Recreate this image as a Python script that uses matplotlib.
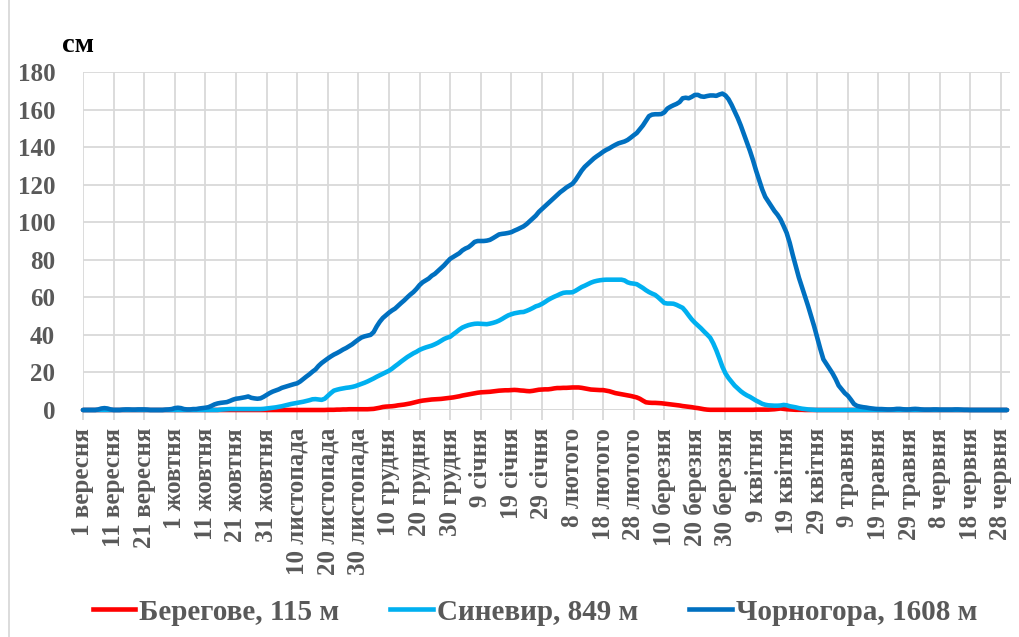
import numpy as np
import matplotlib
matplotlib.use('Agg')
import matplotlib.pyplot as plt
from matplotlib.lines import Line2D

# snow depth (cm), one value per day from 1 September to 30 June
beregove = ([0] * 80 +
    [0.1, 0.1, 0.1, 0.2, 0.2, 0.3, 0.3, 0.4, 0.4, 0.4,
     0.4, 0.4, 0.4, 0.4, 0.5, 0.6, 0.9, 1.2, 1.6, 1.8,
     1.9, 2.0, 2.2, 2.5, 2.7, 2.9, 3.2, 3.5, 3.9, 4.3,
     4.7, 5.0, 5.2, 5.4, 5.6, 5.7, 5.8, 5.9, 6.1, 6.3,
     6.5, 6.7, 7.0, 7.3, 7.7, 8.0, 8.3, 8.6, 8.9, 9.2,
     9.4, 9.5, 9.6, 9.7, 9.9, 10.1, 10.3, 10.4, 10.5, 10.5,
     10.6, 10.7, 10.6, 10.4, 10.3, 10.1, 10.0, 10.2, 10.5, 10.8,
     10.9, 11.0, 11.0, 11.2, 11.5, 11.7, 11.7, 11.8, 11.8, 11.9,
     12.0, 12.0, 12.0, 11.8, 11.5, 11.2, 10.9, 10.8, 10.7, 10.6,
     10.6, 10.3, 10.0, 9.5, 9.0, 8.7, 8.4, 8.1, 7.8, 7.5,
     7.1, 6.7, 6.0, 5.0, 4.1, 3.9, 3.8, 3.8, 3.7, 3.6,
     3.4, 3.2, 3.0, 2.8, 2.6, 2.4, 2.1, 1.9, 1.7, 1.5,
     1.2, 1.0, 0.7, 0.4, 0.2, 0.1, 0.1, 0.1, 0.1, 0.1,
     0.1, 0.1, 0.1, 0.1, 0.1, 0.1, 0.1, 0.1, 0.1, 0.1,
     0.2, 0.2, 0.2, 0.2, 0.2, 0.3, 0.4, 0.6, 0.8, 0.6,
     0.4, 0.3, 0.2, 0.1, 0.1, 0.1, 0, 0, 0, 0] +
    [0] * 63)

synevyr = ([0] * 45 +
    [0.2, 0.3, 0.4, 0.5, 0.5, 0.5, 0.5, 0.5, 0.5, 0.5, 0.5, 0.5, 0.5, 0.5, 0.6,
     0.8, 1.0, 1.2, 1.4, 1.7, 2.0, 2.4, 2.8, 3.2, 3.5,
     3.8, 4.1, 4.4, 4.8, 5.2, 5.7, 5.8, 5.6, 5.4, 6.0,
     7.5, 9.0, 10.3, 10.8, 11.2, 11.5, 11.8, 12.0, 12.3, 12.7,
     13.3, 13.9, 14.5, 15.2, 16.0, 16.8, 17.7, 18.5, 19.3, 20.1,
     20.9, 22.0, 23.3, 24.5, 25.8, 27.0, 28.2, 29.2, 30.2, 31.0,
     32.0, 32.7, 33.3, 33.8, 34.3, 35.0, 35.8, 36.8, 37.8, 38.5,
     39.0, 40.3, 41.5, 42.8, 43.9, 44.6, 45.2, 45.6, 45.9, 46.0,
     45.9, 45.8, 45.7, 46.0, 46.4, 46.9, 47.6, 48.5, 49.5, 50.4,
     51.0, 51.5, 51.8, 52.1, 52.2, 52.8, 53.5, 54.3, 55.2, 55.7,
     56.5, 57.5, 58.6, 59.5, 60.3, 61.0, 61.8, 62.4, 62.6, 62.6,
     62.7, 63.5, 64.5, 65.5, 66.2, 67.0, 67.8, 68.4, 68.8, 69.1,
     69.3, 69.4, 69.4, 69.4, 69.4, 69.4, 69.4, 69.0, 68.0, 67.5,
     67.3, 67.0, 66.0, 65.0, 63.8, 62.8, 62.0, 61.3, 60.0, 58.5,
     57.0, 56.7, 56.7, 56.6, 56.0, 55.2, 54.4, 52.5, 50.3, 48.2,
     46.5, 45.0, 43.5, 41.8, 40.2, 38.5, 35.5, 31.8, 27.5, 23.0,
     19.5, 17.0, 15.0, 13.0, 11.5, 10.0, 8.8, 7.8, 7.0, 6.0,
     5.0, 4.2, 3.3, 2.8, 2.5, 2.4, 2.3, 2.3, 2.4, 2.7,
     2.5, 2.0, 1.7, 1.4, 1.0, 0.7, 0.5, 0.3, 0.2, 0.1] +
    [0] * 63)

chornohora = [
    0, 0, 0, 0, 0, 0.3, 0.8, 1.0, 0.8, 0.3,
    0, 0, 0, 0.2, 0.3, 0.3, 0.2, 0.2, 0.3, 0.3,
    0.3, 0.2, 0, 0, 0, 0, 0, 0.2, 0.3, 0.5,
    1.0, 1.2, 1.0, 0.5, 0.3, 0.3, 0.5, 0.5, 0.8, 1.0,
    1.2, 1.5, 2.2, 3.0, 3.5, 3.8, 4.0, 4.2, 4.8, 5.5,
    6.0, 6.2, 6.5, 6.8, 7.2, 6.5, 6.2, 6.0, 6.2, 7.0,
    8.0, 9.0, 9.8, 10.4, 11.0, 11.8, 12.3, 12.8, 13.3, 13.8,
    14.2, 15.2, 16.5, 17.8, 19.0, 20.4, 21.6, 23.5, 25.0, 26.2,
    27.4, 28.5, 29.5, 30.3, 31.2, 32.2, 33.0, 34.0, 35.0, 36.3,
    37.5, 38.6, 39.2, 39.6, 40.0, 41.5, 44.5, 47.0, 49.0, 50.4,
    51.8, 53.0, 54.0, 55.5, 57.0, 58.4, 60.0, 61.5, 62.8, 64.5,
    66.5, 68.0, 69.0, 70.0, 71.5, 72.5, 74.0, 75.5, 77.0, 78.8,
    80.5, 81.5, 82.5, 83.5, 85.0, 86.0, 86.7, 88.0, 89.5, 90.0,
    90.0, 90.0, 90.2, 90.6, 91.5, 92.5, 93.5, 93.8, 94.0, 94.3,
    94.7, 95.5, 96.2, 97.0, 97.8, 99.0, 100.5, 102.0, 103.5, 105.5,
    107.0, 108.5, 110.0, 111.5, 113.0, 114.5, 116.0, 117.2, 118.5, 119.5,
    120.5, 122.5, 125.0, 127.5, 129.5, 131.0, 132.5, 134.0, 135.2, 136.3,
    137.5, 138.5, 139.3, 140.3, 141.2, 142.0, 142.5, 143.0, 143.8, 145.0,
    146.3, 147.5, 149.5, 151.5, 154.0, 156.5, 157.3, 157.5, 157.5, 157.6,
    158.5, 160.5, 161.5, 162.3, 163.0, 164.0, 166.0, 166.3, 166.0, 166.8,
    167.8, 167.8, 167.0, 166.8, 167.2, 167.5, 167.5, 167.3, 168.0, 168.5,
    167.5, 165.5, 162.5, 159.0, 155.5, 151.5, 147.0, 142.5, 138.0, 133.0,
    127.5, 122.5, 117.5, 113.5, 111.0, 108.5, 106.0, 104.0, 101.5, 98.0,
    94.3, 89.0, 82.5, 76.5, 70.5, 65.5, 60.5, 55.4, 50.0, 44.5,
    38.5, 32.5, 27.0, 24.5, 22.0, 19.5, 16.5, 13.0, 11.0, 9.0,
    7.6, 5.5, 3.2, 2.2, 1.8, 1.5, 1.3, 1.0, 0.8, 0.6,
    0.5, 0.5, 0.4, 0.3, 0.3, 0.4, 0.6, 0.6, 0.4, 0.3,
    0.3, 0.5, 0.6, 0.5, 0.3, 0.2, 0.2, 0.2, 0.3, 0.3,
    0.2, 0.2, 0.2, 0.2, 0.2, 0.3, 0.3, 0.2, 0.1, 0.1,
    0, 0, 0, 0, 0, 0, 0, 0, 0, 0, 0, 0, 0]

tick_labels = ['1 вересня', '11 вересня', '21 вересня', '1 жовтня', '11 жовтня',
               '21 жовтня', '31 жовтня', '10 листопада', '20 листопада', '30 листопада',
               '10 грудня', '20 грудня', '30 грудня', '9 січня', '19 січня', '29 січня',
               '8 лютого', '18 лютого', '28 лютого', '10 березня', '20 березня',
               '30 березня', '9 квітня', '19 квітня', '29 квітня', '9 травня',
               '19 травня', '29 травня', '8 червня', '18 червня', '28 червня']

series_names = ['Берегове, 115 м', 'Синевир, 849 м', 'Чорногора, 1608 м']
colors = ['#FF0000', '#00B0F0', '#0070C0']

plt.rcParams['font.family'] = ['Liberation Serif', 'DejaVu Serif']
plt.rcParams['font.weight'] = 'bold'

W, H = 1019, 637
fig = plt.figure(figsize=(W / 100, H / 100), dpi=100)
ax = fig.add_axes([83 / W, 1 - 410 / H, 927 / W, 338 / H])

days = np.arange(len(chornohora))
for vals, c in zip([beregove, synevyr, chornohora], colors):
    ax.plot(days, vals, color=c, lw=3.3, solid_capstyle='round', clip_on=False, zorder=3)

ax.set_xlim(0, len(days))
ax.set_ylim(0, 180)
ax.set_yticks(np.arange(0, 181, 20))
ax.set_xticks(np.arange(0, len(tick_labels) * 10, 10))
ax.set_xticklabels(tick_labels, rotation=90, va='top', ha='center')

grid_c = '#D9D9D9'
ax.grid(True, color=grid_c, lw=1.3, zorder=0)
for s in ax.spines.values():
    s.set_visible(False)
ax.axhline(0, color=grid_c, lw=1.3, zorder=1)
ax.tick_params(axis='x', length=7, width=1.3, color=grid_c, pad=6,
               labelsize=18, labelcolor='#595959')
ax.tick_params(axis='y', length=0, pad=20, labelsize=18, labelcolor='#595959')

fig.text(62 / W, 1 - 45 / H, 'см', fontsize=20.5, fontweight='bold', color='black',
         ha='left', va='center')

# chart area border on the left
fig.add_artist(Line2D([9 / W, 9 / W], [0, 1], color=grid_c, lw=1.3))

handles = [Line2D([], [], color=c, lw=3.3) for c in colors]
fig.legend(handles, series_names, loc='center', bbox_to_anchor=(535 / W, 1 - 612 / H),
           ncol=3, frameon=False, fontsize=21, handlelength=1.45, handletextpad=0.15,
           columnspacing=1.75, labelcolor='#595959')

fig.savefig('out.png', dpi=100)
